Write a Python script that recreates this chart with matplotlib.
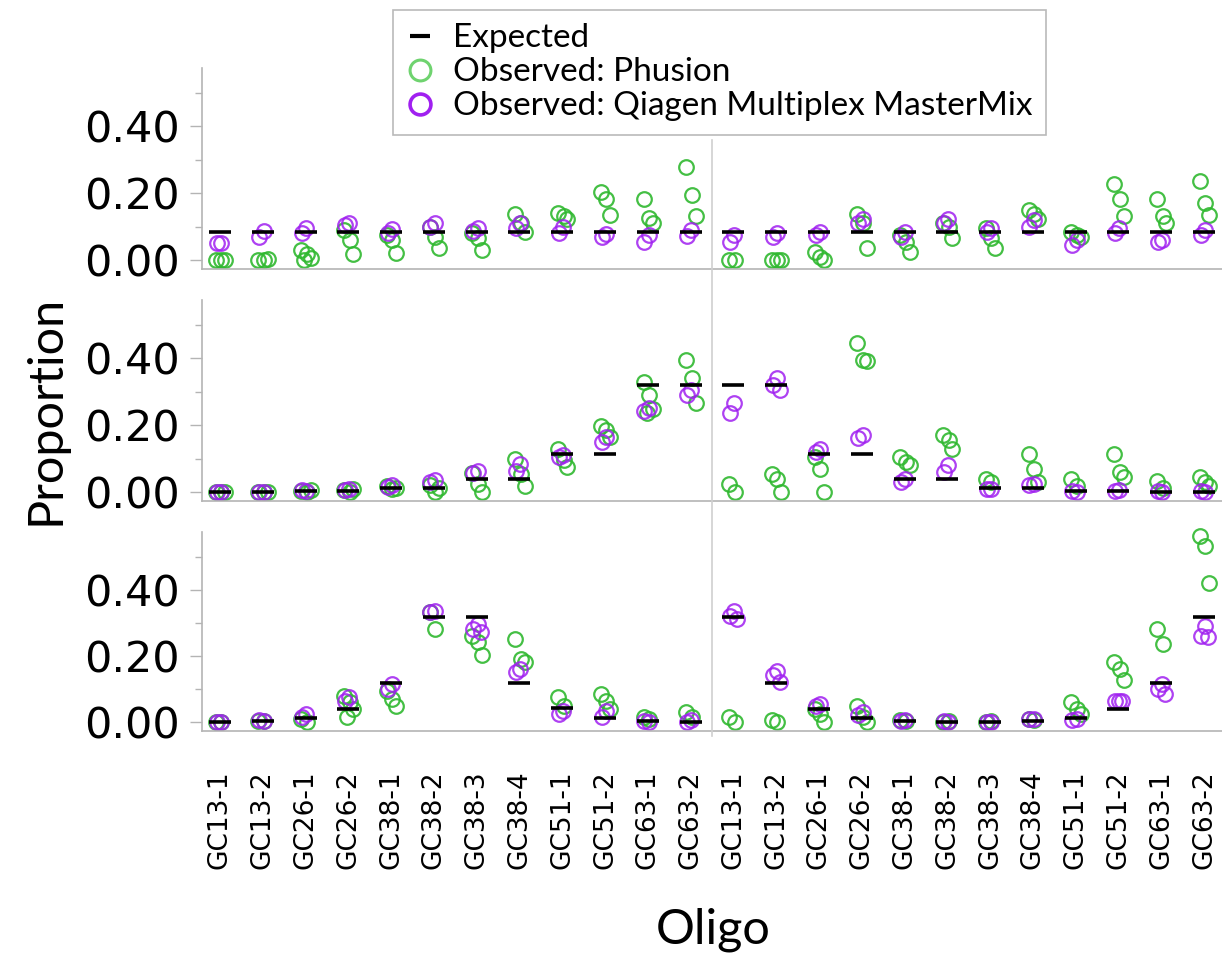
import numpy as np
import matplotlib
matplotlib.use("Agg")
import matplotlib.pyplot as plt
from matplotlib.lines import Line2D
import matplotlib.transforms as mtransforms

# oligo names, shown twice (two halves of the axis)
oligos = ["GC13-1", "GC13-2", "GC26-1", "GC26-2", "GC38-1", "GC38-2",
          "GC38-3", "GC38-4", "GC51-1", "GC51-2", "GC63-1", "GC63-2"]
tick_labels = oligos + oligos

# ---- top panel: equal mix ----
expected_top = [0.083, 0.083, 0.083, 0.083, 0.083, 0.083, 0.083, 0.083, 0.083, 0.083, 0.083, 0.083,
                0.083, 0.083, 0.083, 0.083, 0.083, 0.083, 0.083, 0.083, 0.083, 0.083, 0.083, 0.083]
phusion_top = [[0.0, 0.0, 0.0], [0.0, 0.0, 0.002], [0.03, 0.018, 0.006, 0.0], [0.09, 0.06, 0.017],
               [0.075, 0.06, 0.02], [0.1, 0.07, 0.035], [0.08, 0.065, 0.03], [0.139, 0.11, 0.085],
               [0.141, 0.133, 0.123], [0.204, 0.182, 0.136], [0.182, 0.126, 0.11], [0.278, 0.194, 0.131],
               [0.0, 0.0], [0.0, 0.0, 0.0], [0.024, 0.01, 0.0], [0.139, 0.11, 0.035],
               [0.075, 0.055, 0.024], [0.11, 0.1, 0.065], [0.095, 0.065, 0.035], [0.151, 0.139, 0.123],
               [0.085, 0.075, 0.07], [0.227, 0.182, 0.131], [0.182, 0.131, 0.11], [0.237, 0.172, 0.136]]
qiagen_top = [[0.05, 0.05], [0.088, 0.07], [0.095, 0.082], [0.11, 0.105],
              [0.092, 0.08], [0.11, 0.1], [0.095, 0.088], [0.11, 0.095],
              [0.1, 0.08], [0.078, 0.07], [0.075, 0.055], [0.09, 0.072],
              [0.075, 0.055], [0.08, 0.07], [0.085, 0.075], [0.123, 0.11],
              [0.085, 0.07], [0.123, 0.11], [0.095, 0.085], [0.12, 0.1],
              [0.06, 0.045], [0.095, 0.08], [0.06, 0.055], [0.09, 0.075]]

# ---- middle panel ----
expected_mid = [0.0, 0.0, 0.003, 0.003, 0.011, 0.011, 0.039, 0.039, 0.115, 0.115, 0.319, 0.319,
                0.319, 0.319, 0.115, 0.115, 0.039, 0.039, 0.011, 0.011, 0.003, 0.003, 0.0, 0.0]
phusion_mid = [[0.0, 0.0, 0.0], [0.0, 0.0, 0.0], [0.003, 0.0, 0.005], [0.005, 0.0, 0.008],
               [0.018, 0.008, 0.012], [0.02, 0.0, 0.012], [0.056, 0.023, 0.0], [0.1, 0.054, 0.018],
               [0.128, 0.095, 0.074], [0.197, 0.187, 0.166], [0.33, 0.289, 0.248, 0.238], [0.396, 0.34, 0.268],
               [0.023, 0.0], [0.054, 0.039, 0.0], [0.105, 0.069, 0.0], [0.447, 0.396, 0.391],
               [0.105, 0.09, 0.08], [0.171, 0.156, 0.13], [0.039, 0.029], [0.115, 0.069, 0.029],
               [0.039, 0.018], [0.115, 0.059, 0.044], [0.034, 0.013], [0.044, 0.029, 0.018]]
qiagen_mid = [[0.0, 0.0], [0.0, 0.0], [0.003, 0.005], [0.008, 0.005],
              [0.02, 0.015], [0.035, 0.03], [0.064, 0.056], [0.085, 0.064],
              [0.11, 0.105], [0.166, 0.151], [0.253, 0.243], [0.304, 0.289],
              [0.268, 0.236], [0.34, 0.319, 0.304], [0.13, 0.12], [0.171, 0.161],
              [0.039, 0.029], [0.08, 0.059], [0.008, 0.01], [0.023, 0.02],
              [0.0, 0.003], [0.005, 0.002], [0.0, 0.002], [0.0, 0.002]]

# ---- bottom panel ----
expected_bot = [0.0, 0.003, 0.013, 0.04, 0.117, 0.318, 0.318, 0.117, 0.042, 0.013, 0.003, 0.0,
                0.318, 0.117, 0.04, 0.013, 0.003, 0.0, 0.0, 0.003, 0.013, 0.04, 0.117, 0.318]
phusion_bot = [[0.0, 0.0], [0.003, 0.002], [0.01, 0.0], [0.078, 0.06, 0.04, 0.015],
               [0.095, 0.07, 0.05], [0.332, 0.281], [0.261, 0.241, 0.204], [0.251, 0.191, 0.181],
               [0.075, 0.05], [0.085, 0.065, 0.04], [0.015, 0.008], [0.03, 0.015],
               [0.015, 0.0], [0.005, 0.0], [0.04, 0.025, 0.0], [0.05, 0.015, 0.0],
               [0.005, 0.002], [0.0, 0.003], [0.0, 0.002], [0.008, 0.005],
               [0.06, 0.04, 0.025], [0.181, 0.161, 0.126], [0.281, 0.236], [0.563, 0.533, 0.422]]
qiagen_bot = [[0.0, 0.0], [0.003, 0.005], [0.025, 0.015], [0.075, 0.065],
              [0.116, 0.1], [0.337, 0.332], [0.296, 0.281, 0.271], [0.161, 0.151],
              [0.035, 0.025], [0.035, 0.015], [0.0, 0.002], [0.005, 0.0],
              [0.337, 0.322, 0.312], [0.156, 0.141, 0.121], [0.055, 0.05], [0.03, 0.02],
              [0.005, 0.003], [0.0, 0.002], [0.0, 0.001], [0.008, 0.01],
              [0.01, 0.005], [0.065, 0.065, 0.063], [0.116, 0.1, 0.085], [0.291, 0.261, 0.256]]

panels = [(expected_top, phusion_top, qiagen_top),
          (expected_mid, phusion_mid, qiagen_mid),
          (expected_bot, phusion_bot, qiagen_bot)]

GREEN = "#2fb82f"
PURPLE = "#a020f0"
GRAY = "#b4b4b4"
jit_g = [-0.1, 0.03, 0.12, -0.03]
jit_p = [0.02, -0.08, 0.09]

fig = plt.figure(figsize=(12.22, 9.59), dpi=100)
left, width = 202 / 1222, 1 - 202 / 1222
boxes = [(68, 269), (300, 501), (532, 731)]
axes = []
for (top_px, bot_px), (exp, phu, qia) in zip(boxes, panels):
    ax = fig.add_axes([left, 1 - bot_px / 959, width, (bot_px - top_px) / 959])
    axes.append(ax)
    xs = np.arange(len(tick_labels))
    for i in xs:
        for k, v in enumerate(phu[i]):
            ax.plot(i + jit_g[k % 4], v, "o", ms=10.5, mfc="none", mec=GREEN, mew=1.6,
                    alpha=0.9, clip_on=False)
        for k, v in enumerate(qia[i]):
            ax.plot(i + jit_p[k % 3], v, "o", ms=10.5, mfc="none", mec=PURPLE, mew=1.6,
                    alpha=0.85, clip_on=False)
    ax.plot(xs, exp, "_", color="black", ms=16, mew=2.6, zorder=5, clip_on=False)

    ax.set_xlim(-0.42, 23.42)
    ax.set_ylim(-0.027, 0.575)
    ax.set_yticks([0.0, 0.2, 0.4])
    ax.set_yticks([0.1, 0.3, 0.5], minor=True)
    ax.set_yticklabels(["0.00", "0.20", "0.40"])
    ax.tick_params(axis="y", which="major", length=9, width=1, color=GRAY, labelsize=31, pad=7)
    ax.tick_params(axis="y", which="minor", length=5, width=1, color=GRAY)
    ax.set_xticks(xs)
    ax.tick_params(axis="x", length=0)
    for s in ["top", "right"]:
        ax.spines[s].set_visible(False)
    for s in ["left", "bottom"]:
        ax.spines[s].set_color(GRAY)
        ax.spines[s].set_linewidth(1.2)

axes[0].set_xticklabels([])
axes[1].set_xticklabels([])
axes[2].set_xticklabels(tick_labels, rotation=90, fontsize=19)
axes[2].tick_params(axis="x", pad=28)

# divider between the two halves, spanning all panels
trans = mtransforms.blended_transform_factory(axes[0].transData, fig.transFigure)
fig.add_artist(Line2D([11.5, 11.5], [1 - 140 / 959, 1 - 736 / 959], transform=trans,
                      color="#d0d0d0", lw=1.2))

fig.text(45 / 1222, 1 - 410 / 959, "Proportion", rotation=90, ha="center", va="center",
         fontsize=35, family="Lato")
fig.text(713 / 1222, 1 - 930 / 959, "Oligo", ha="center", va="center", fontsize=35, family="Lato")

handles = [Line2D([], [], color="black", marker="_", ls="none", ms=14, mew=3),
           Line2D([], [], marker="o", ls="none", ms=15, mfc="none", mec="#6fd36f", mew=2.2),
           Line2D([], [], marker="o", ls="none", ms=15, mfc="none", mec=PURPLE, mew=2.6)]
leg = fig.legend(handles, ["Expected", "Observed: Phusion", "Observed: Qiagen Multiplex MasterMix"],
                 loc="upper left", bbox_to_anchor=(393 / 1222, 1 - 10 / 959),
                 prop={"family": "Lato", "size": 24}, frameon=True, fancybox=False,
                 edgecolor="#a8a8a8", handlelength=0.8, handletextpad=0.6,
                 labelspacing=0.12, borderpad=0.4, borderaxespad=0)
leg.get_frame().set_linewidth(1.2)

fig.savefig("out.png", dpi=100)
